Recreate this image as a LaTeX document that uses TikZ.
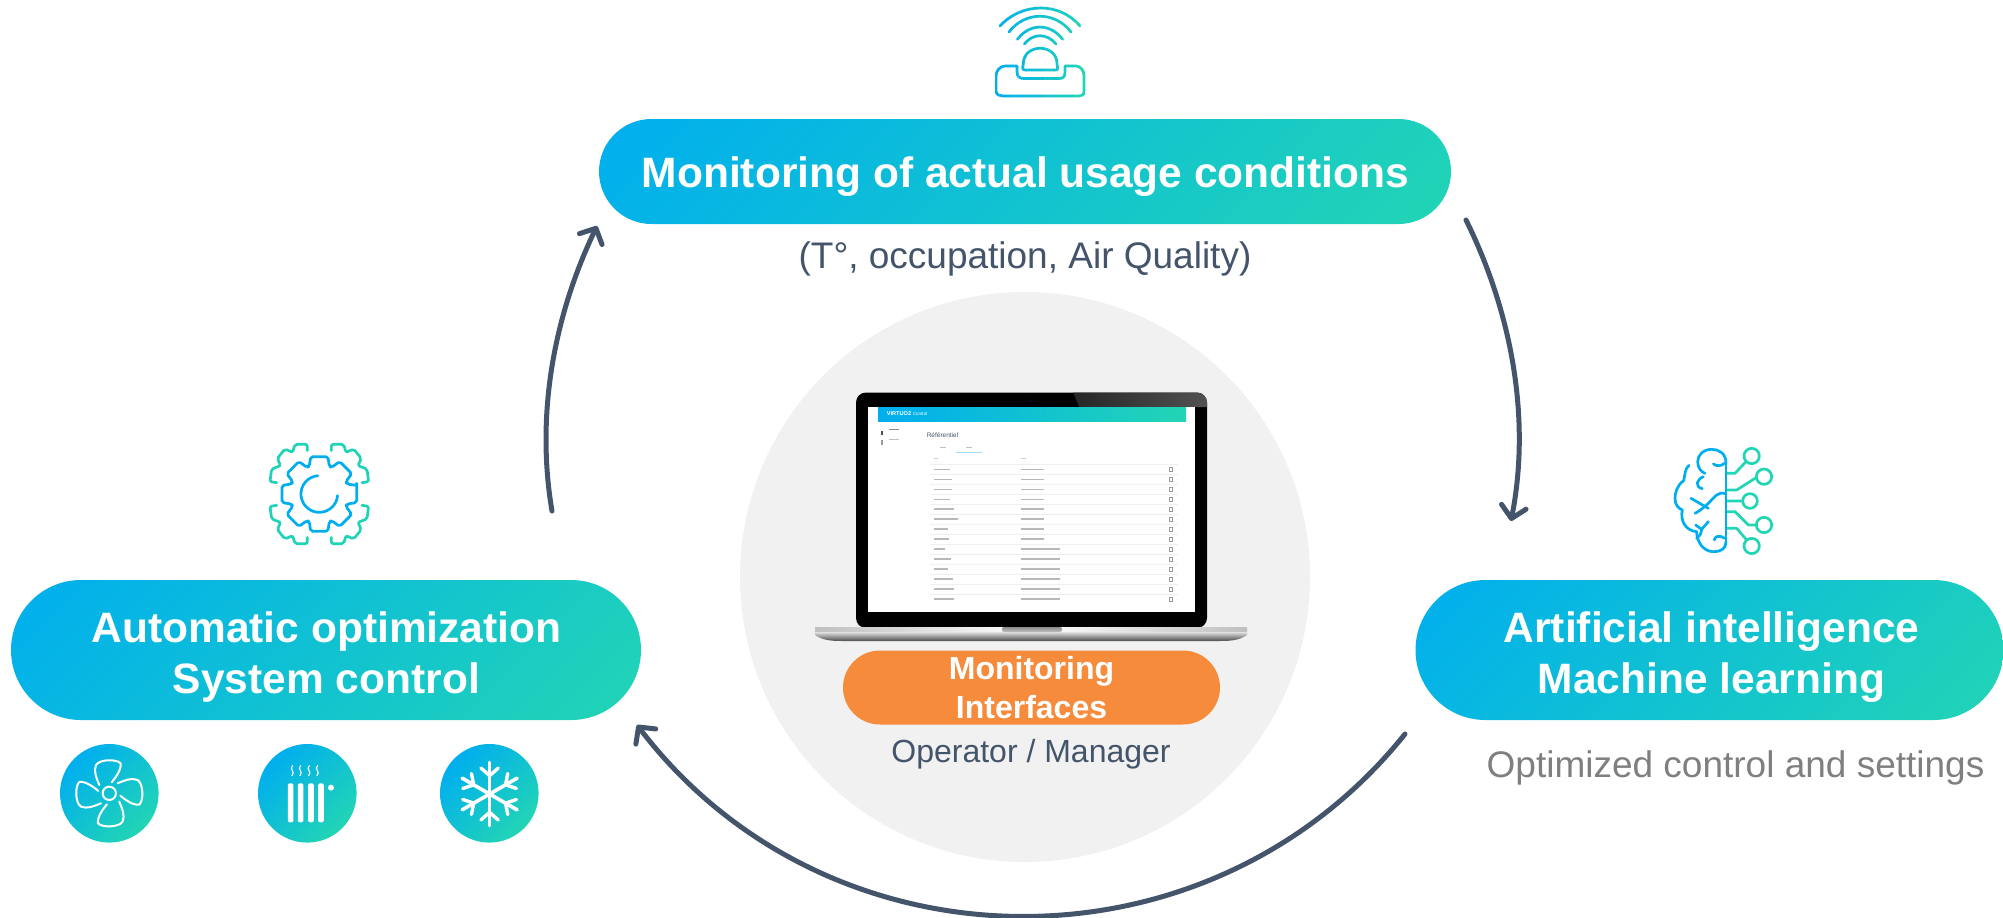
\documentclass[tikz,border=0pt]{standalone}
\usepackage{fontspec}
\setmainfont{Liberation Sans}
\usetikzlibrary{arrows.meta,shapes.misc}
\definecolor{gradA}{HTML}{00AEEF}
\definecolor{gradB}{HTML}{22D5B4}
\definecolor{ink}{HTML}{44546A}
\definecolor{muted}{HTML}{7F7F7F}
\definecolor{discgray}{HTML}{F1F1F1}
\definecolor{orangefill}{HTML}{F68B3C}
\newcommand{\stripgrad}[5]{% x0, x1, y0, y1, path code
  \foreach \ii in {0,...,23}{%
    \pgfmathsetmacro{\pct}{100-\ii*100/23}%
    \begin{scope}
      \clip ({#1+(#2-#1)*\ii/24},#3) rectangle ({#1+(#2-#1)*(\ii+1)/24+0.3},#4);
      \draw[icon,color=gradA!\pct!gradB] #5;
    \end{scope}}}
% centre x, centre y, width, height, half-length of the gradient: a 45-degree gradient inside a fully rounded box
\newcommand{\gradpatch}[5]{%
  \begin{scope}
    \clip[rounded corners={#4/2*1pt}] ({#1-#3/2},{#2-#4/2}) rectangle ({#1+#3/2},{#2+#4/2});
    \shade[transform canvas={shift={(#1,#2)},rotate=-45},left color=gradA,right color=gradB] (-#5,-#5) rectangle (#5,#5);
  \end{scope}}
\tikzset{
  x=1pt,y=-1pt,
  pill/.style={rounded rectangle,inner sep=0pt,text=white,align=center,font=\fontsize{42.5}{51}\bfseries\selectfont},
  roundicon/.style={circle,inner sep=0pt,minimum size=98.6pt},
  loop/.style={draw=ink,line width=5pt,line cap=round,-{Straight Barb[length=12pt,width=25pt,line width=5pt,round]}},
  caption/.style={inner sep=0pt,text=ink},
  icon/.style={line width=2.7pt,line cap=round,line join=round},
  whiteline/.style={draw=white,line width=2pt,line cap=round,line join=round},
  rowbar/.style={fill=black!28},
}
\begin{document}
\begin{tikzpicture}
\useasboundingbox (0,0) rectangle (2003,918);
% central disc
\node[circle,fill=discgray,minimum size=570pt,inner sep=0pt] (disc) at (1025,577) {};
% pills
\gradpatch{1025}{171.5}{852}{105}{338}
\gradpatch{326}{650}{630}{140}{272}
\gradpatch{1709.5}{650}{588}{140}{257}
\node[pill,minimum width=852pt,minimum height=105pt] (monitor) at (1025.5,176.5) {Monitoring of actual usage conditions};
\node[pill,minimum width=630pt,minimum height=140pt] (auto) at (326.5,657.5) {Automatic optimization\\System control};
\node[pill,minimum width=588pt,minimum height=140pt] (ai) at (1711.5,657.5) {Artificial intelligence\\Machine learning};
% captions
\node[caption,font=\fontsize{37}{44}\selectfont] (tcap) at (1025,259) {(T°, occupation, Air Quality)};
\node[caption,font=\fontsize{32}{38}\selectfont] (opcap) at (1031,754) {Operator / Manager};
\node[caption,text=muted,font=\fontsize{37}{44}\selectfont] (optcap) at (1735.5,768) {Optimized control and settings};
% laptop
\fill[black,rounded corners=10pt] (856,392.5) rectangle (1207,628);
\begin{scope}
  \clip[rounded corners=10pt] (856,392.5) rectangle (1207,628);
  \shade[left color=black!85,right color=black!68] (1073,392) -- (1207,392) -- (1207,407) -- (1079,407) -- cycle;
\end{scope}
\fill[white] (868,407) rectangle (1195,612);
\fill[black!75!blue] (1031,401) circle (1.8);
\shade[left color=black!25,right color=black!25,middle color=white] (815,627) -- (1247,627) -- (1247,633) -- (815,633) -- cycle;
\shade[top color=black!12,bottom color=black!70] (815,632) -- (1247,632) -- (1247,635) .. controls (1240,640) and (1232,641) .. (1220,641) -- (842,641) .. controls (830,641) and (822,640) .. (815,635) -- cycle;
\shade[top color=black!45,bottom color=black!25,rounded corners=2pt] (1002,627) rectangle (1062,632);
% screen contents
\shade[left color=gradA,right color=gradB] (878,407) rectangle (1186,421);
\node[inner sep=0pt,text=white,font=\fontsize{5.6}{7}\bfseries\selectfont] (brand) at (899,414) {VIRTUO2};
\node[inner sep=0pt,text=white,font=\fontsize{4.5}{6}\selectfont] (section) at (920,414) {Control};
\node[inner sep=0pt,text=ink,font=\fontsize{6.5}{8}\selectfont] (title) at (942.5,435.5) {Référentiel};
\fill[black!70] (881,431) rectangle (883,435);
\fill[black!40] (881,440) rectangle (883,445);
\fill[black!45] (889,428.8) rectangle (899,430);
\fill[black!25] (889,438.8) rectangle (899,440);
\fill[black!25] (940,446.5) rectangle (946,448);
\fill[black!25] (966,446.5) rectangle (972,448);
\fill[gradA!40] (956,451.6) rectangle (982,452.6);
\fill[black!20] (934,458) rectangle (938,459.2);
\fill[black!20] (1021,458) rectangle (1026,459.2);
\foreach \r/\wa/\wb in {0/16/23,1/18/23,2/18/23,3/16/23,4/20/23,5/24/23,6/14/23,7/15/23,8/11/39,9/17/39,10/14/39,11/19/39,12/20/39,13/20/39}{
  \pgfmathsetmacro{\yy}{469.3+\r*9.97}
  \fill[black!6] (930,\yy-5.3) rectangle (1178,\yy-4.8);
  \fill[rowbar] (934,\yy-0.7) rectangle (934+\wa,\yy+0.7);
  \fill[rowbar] (1020.7,\yy-0.7) rectangle (1020.7+\wb,\yy+0.7);
  \draw[black!40,line width=0.5pt] (1169.3,\yy-2) rectangle (1172.3,\yy+2);
}
% orange pill
\node[pill,fill=orangefill,minimum width=377pt,minimum height=74pt,font=\fontsize{32}{38}\bfseries\selectfont] (iface) at (1031.5,687.5) {\raisebox{-1pt}{Monitoring}\\\raisebox{-2pt}{Interfaces}};
% round icons
\gradpatch{109.3}{793.3}{98.6}{98.6}{49.3}
\gradpatch{307.3}{793.3}{98.6}{98.6}{49.3}
\gradpatch{489.3}{793.3}{98.6}{98.6}{49.3}
\node[roundicon] (fan) at (109.3,793.3) {};
\node[roundicon] (radiator) at (307.3,793.3) {};
\node[roundicon] (snow) at (489.3,793.3) {};
% loop arrows
\coordinate (a1) at (1466,220);
\coordinate (a1c) at (1511,521);
\coordinate (a2) at (1405,734);
\coordinate (a2c) at (637,725);
\coordinate (a3) at (552,511);
\coordinate (a3c) at (597,226);
\draw[loop] (a1) .. controls (1512,313) and (1531,419) .. (a1c);
\draw[loop] (a2) .. controls (1207.5,980.6) and (828.4,975.6) .. (a2c);
\draw[loop] (a3) .. controls (535.4,413.7) and (554.5,314.8) .. (a3c);
% top sensor icon
\stripgrad{995}{1088}{0}{105}{(1000,26) .. controls (1022,2) and (1060,2) .. (1080,26)}
\stripgrad{995}{1088}{0}{105}{(1009,32) .. controls (1025,11) and (1055,11) .. (1071,32)}
\stripgrad{995}{1088}{0}{105}{(1017.3,39.3) .. controls (1030,23) and (1050,23) .. (1062.7,39.3)}
\stripgrad{995}{1088}{0}{105}{(1024.3,44) .. controls (1033,33) and (1047,33) .. (1056,44)}
\stripgrad{995}{1088}{0}{105}{(1025,70) .. controls (1021,70) and (1023.3,66) .. (1023.3,64) .. controls (1023.3,43) and (1057,43) .. (1057,64) .. controls (1057,66) and (1059,70) .. (1056,70) -- cycle}
\stripgrad{995}{1088}{0}{105}{(1017,66) -- (1017,72) .. controls (1017,77) and (1020,78.5) .. (1024,78.5) -- (1059,78.5) .. controls (1063,78.5) and (1065,77) .. (1065,72) -- (1065,66) -- (1076,66) .. controls (1081,66) and (1084,71) .. (1084,76) -- (1084,91) .. controls (1084,95) and (1082,96) .. (1079,96) -- (1003,96) .. controls (1000,96) and (996,95) .. (996,91) -- (996,76) .. controls (996,71) and (1000,66) .. (1005,66) -- cycle}
% gear icon
\begin{scope}[shift={(319.3,494)},x=0.3333pt,y=-0.3333pt,line width=2.7pt,line cap=round,line join=round]
  \draw[gradA,rounded corners=2pt] (-13:115) \foreach \a in {0,45,...,315}{ -- (\a-13:115) -- (\a+13:115) -- (\a+20:88) -- (\a+25:88)} -- cycle;
  \draw[gradA] (265:55) arc[start angle=265,end angle=5,radius=55];
  \foreach \sx/\sy in {1/1,-1/1,1/-1,-1/-1}{
    \begin{scope}[xscale=\sx,yscale=\sy]
      \draw[gradB!95!gradA,rounded corners=2pt] (36,-130) -- (36,-149) -- (73,-149) -- (80,-125) -- (103,-135) -- (126,-107) -- (116,-85) -- (143,-75) -- (148,-37) -- (128,-34);
    \end{scope}}
\end{scope}
% brain icon
\begin{scope}[shift={(1665,440)},x=0.3333pt,y=-0.3333pt,line width=2.7pt,line cap=round,line join=round]
  \draw[gradB] (260,48) circle (23) (297,110) circle (23) (255,183) circle (22) (297,255) circle (23) (260,318) circle (23);
  \draw[gradB] (185,100) -- (210,100) -- (242,66) (185,150) -- (215,150) -- (275,112) (185,183) -- (233,183) (185,215) -- (210,215) -- (250,255) -- (274,255) (185,265) -- (215,265) -- (245,300);
  \draw[gradA] (183,70) -- (183,305);
  \draw[gradA] (183,70) .. controls (183,40) and (162,28) .. (140,28) .. controls (115,28) and (98,45) .. (98,65) .. controls (98,85) and (110,97) .. (120,100);
  \draw[gradA] (72,76) .. controls (60,85) and (60,105) .. (56,122) .. controls (36,135) and (30,160) .. (30,175) .. controls (30,195) and (40,205) .. (52,210) .. controls (45,240) and (60,272) .. (95,275) .. controls (95,305) and (115,335) .. (145,335) .. controls (170,335) and (183,325) .. (183,305);
  \draw[gradA] (145,72) .. controls (155,80) and (170,78) .. (178,70);
  \draw[gradA] (115,110) .. controls (95,118) and (88,140) .. (112,146);
  \draw[gradA] (183,162) .. controls (160,152) and (150,170) .. (130,190) .. controls (110,208) and (100,215) .. (90,220);
  \draw[gradA] (78,175) -- (130,205);
  \draw[gradA] (92,255) -- (110,268) -- (130,245) (110,268) .. controls (108,282) and (104,290) .. (95,295);
  \draw[gradA] (178,295) .. controls (160,282) and (148,292) .. (148,300);
\end{scope}
% fan
\begin{scope}[shift={(109.3,793.3)},x=0.3333pt,y=-0.3333pt]
  \draw[whiteline] (0,0) circle (20);
  \foreach \rr in {0,90,180,270}{
    \draw[whiteline,rotate=\rr] (-30,-25) .. controls (-38,-45) and (-48,-65) .. (-40,-85) .. controls (-28,-103) and (22,-103) .. (34,-90) .. controls (37,-70) and (17,-45) .. (7,-33);
  }
\end{scope}
% radiator
\begin{scope}[shift={(50,735)},x=0.3333pt,y=-0.3333pt]
  \foreach \bx in {722,752,783,813}{
    \fill[white,rounded corners=2pt] ({\bx-8.5},145) rectangle ({\bx+8.5},262);
  }
  \fill[white] (843,158) circle (9);
  \foreach \bx in {728,752,778,803}{
    \draw[white,line width=1.1pt,line cap=round] (\bx,92) .. controls (\bx-12,102) and (\bx+10,110) .. (\bx-2,122);
  }
\end{scope}
% snowflake
\begin{scope}[shift={(489.6,794)},x=0.3333pt,y=-0.3333pt,line width=3.6pt,line cap=round,white]
  \foreach \rr in {0,60,...,300}{
    \begin{scope}[rotate=\rr]
      \draw (0,0) -- (0,-95);
      \draw[line width=3.4pt] (0,-55) -- (-26,-78) (0,-55) -- (26,-78);
    \end{scope}}
\end{scope}
\end{tikzpicture}
\end{document}
